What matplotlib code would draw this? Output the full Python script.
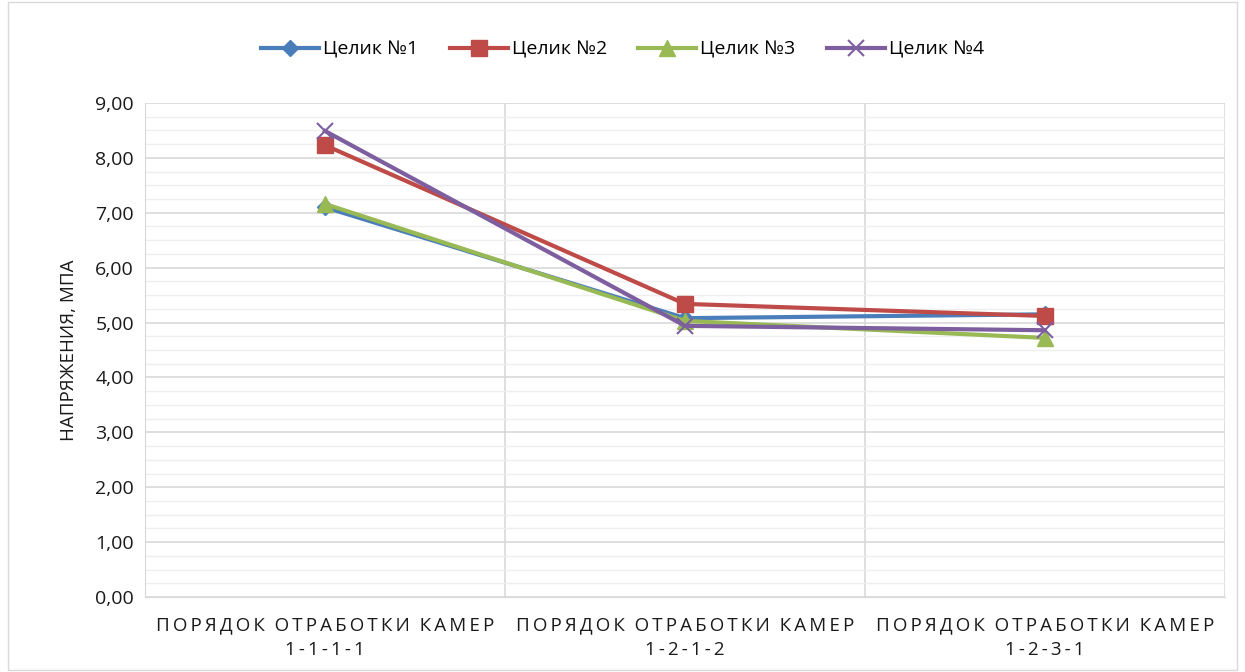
import matplotlib
matplotlib.use("Agg")
import matplotlib.pyplot as plt
from matplotlib.patches import Rectangle
from matplotlib.ticker import MultipleLocator, FuncFormatter

plt.rcParams["font.family"] = ["Open Sans", "DejaVu Sans"]

# stresses in pillars for each chamber mining order
categories = ["ПОРЯДОК ОТРАБОТКИ КАМЕР\n1-1-1-1",
              "ПОРЯДОК ОТРАБОТКИ КАМЕР\n1-2-1-2",
              "ПОРЯДОК ОТРАБОТКИ КАМЕР\n1-2-3-1"]
series_names = ["Целик №1", "Целик №2", "Целик №3", "Целик №4"]
pillar1 = [7.10, 5.08, 5.15]
pillar2 = [8.23, 5.34, 5.12]
pillar3 = [7.16, 5.03, 4.72]
pillar4 = [8.49, 4.94, 4.86]

colors = ["#4a7ebb", "#be4b48", "#98b954", "#7d5fa0"]
markers = ["D", "s", "^", "x"]
sizes = [8, 11, 11, 11]


def spaced(label):
    # widen letter spacing like the office chart
    lines = label.split("\n")
    out = []
    for ln in lines:
        words = ln.split(" ")
        out.append("  ".join("\u2009".join(w) for w in words))
    return "\n".join(out)


fig = plt.figure(figsize=(12.45, 6.72), dpi=100)
ax = fig.add_axes([145 / 1245, 1 - 597 / 672, 1080 / 1245, 494 / 672])

x = [0, 1, 2]
for name, vals, c, m, s in zip(series_names, [pillar1, pillar2, pillar3, pillar4],
                                colors, markers, sizes):
    ax.plot(x, vals, color=c, lw=3, marker=m, ms=s, mew=1.5 if m == "x" else 1,
            mec=c, mfc=c, label=name, zorder=3)

ax.set_xlim(-0.5, 2.5)
ax.set_ylim(0, 9)
ax.yaxis.set_major_locator(MultipleLocator(1))
ax.yaxis.set_minor_locator(MultipleLocator(0.25))
ax.yaxis.set_major_formatter(FuncFormatter(lambda v, p: f"{v:.2f}".replace(".", ",")))
ax.grid(which="major", axis="y", color="#d9d9d9", lw=1.2)
ax.grid(which="minor", axis="y", color="#eeeeee", lw=1)
for xv in [0.5, 1.5, 2.5]:
    ax.axvline(xv, color="#d9d9d9", lw=1.2, zorder=0)
ax.set_axisbelow(True)

ax.set_xticks(x)
ax.set_xticklabels([spaced(c) for c in categories], fontsize=13.5, color="#1a1a1a",
                   linespacing=1.45)
ax.tick_params(axis="both", which="both", length=0)
ax.tick_params(axis="x", pad=14)
ax.tick_params(axis="y", pad=8, labelsize=14, colors="#1a1a1a")
ax.set_ylabel("НАПРЯЖЕНИЯ, МПА", fontsize=13.5, color="#1a1a1a", labelpad=12)

for side in ["top", "right"]:
    ax.spines[side].set_visible(False)
ax.spines["left"].set_color("#d9d9d9")
ax.spines["bottom"].set_color("#d9d9d9")

leg = fig.legend(loc="center", bbox_to_anchor=(0.5, 1 - 50 / 672), ncol=4,
                 frameon=False, fontsize=14, handlelength=3, columnspacing=1.6,
                 handletextpad=0.2)

fig.patches.append(Rectangle((8 / 1245, 2 / 672), 1229 / 1245, 668 / 672,
                             transform=fig.transFigure, fill=False,
                             edgecolor="#d9d9d9", lw=1))

fig.savefig("out.png", dpi=100)
